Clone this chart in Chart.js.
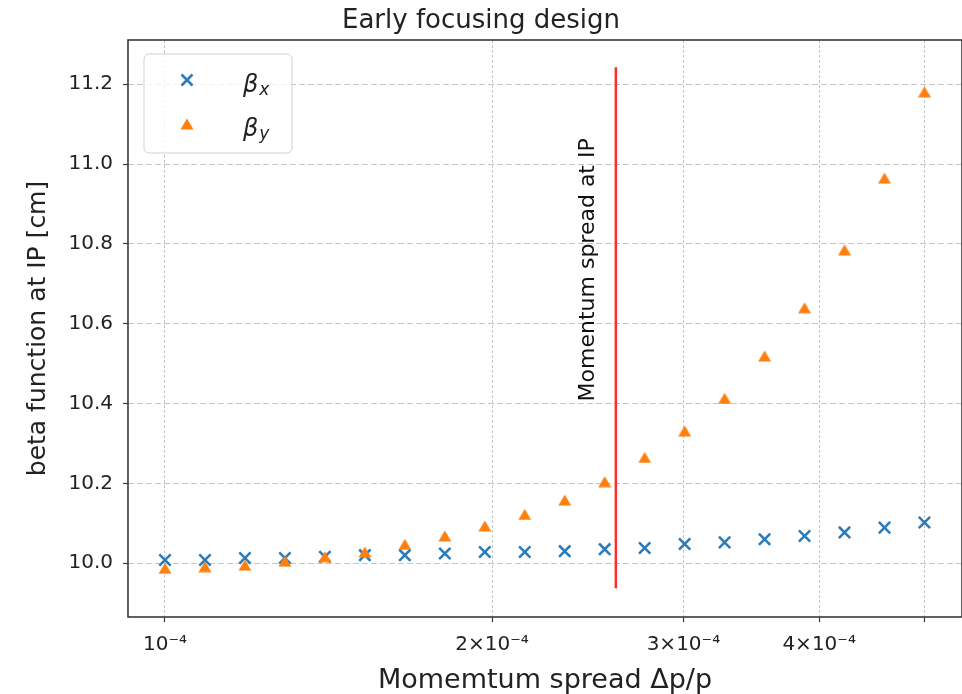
<!DOCTYPE html>
<html>
<head>
<meta charset="utf-8">
<script src="https://cdn.jsdelivr.net/npm/chart.js@4/dist/chart.umd.min.js"></script>
<style>
  html, body { margin: 0; padding: 0; background: #ffffff; }
  #wrap { width: 962px; height: 694px; }
</style>
</head>
<body>
<div id="wrap"><canvas id="c" width="962" height="694"></canvas></div>
<script>
// ---------------- data ----------------
const momentumSpread = [1.0000e-4, 1.0884e-4, 1.1846e-4, 1.2893e-4, 1.4033e-4, 1.5274e-4, 1.6624e-4, 1.8094e-4, 1.9693e-4, 2.1434e-4,
                        2.3329e-4, 2.5391e-4, 2.7636e-4, 3.0079e-4, 3.2737e-4, 3.5631e-4, 3.8781e-4, 4.2210e-4, 4.5941e-4, 5.0000e-4];
const betaX = [10.008, 10.008, 10.013, 10.013, 10.016, 10.020, 10.020, 10.024, 10.028, 10.028,
               10.030, 10.035, 10.038, 10.048, 10.052, 10.060, 10.068, 10.077, 10.089, 10.102];
const betaY = [9.987, 9.991, 9.995, 10.005, 10.016, 10.028, 10.047, 10.068, 10.093, 10.122,
               10.158, 10.204, 10.265, 10.331, 10.413, 10.519, 10.640, 10.785, 10.965, 11.181];
const ipSpreadX = [2.6e-4, 2.6e-4];
const ipSpreadY = [9.937, 11.243];
const xTickValues = [1e-4, 2e-4, 3e-4, 4e-4, 5e-4];
const xTickLabels = ['10\u207B\u2074', '2\u00D710\u207B\u2074', '3\u00D710\u207B\u2074', '4\u00D710\u207B\u2074', ''];
const yTickValues = [10.0, 10.2, 10.4, 10.6, 10.8, 11.0, 11.2];
const yTickLabels = ['10.0', '10.2', '10.4', '10.6', '10.8', '11.0', '11.2'];
const seriesLabels = ['\u03B2_x', '\u03B2_y'];
const annotationText = 'Momentum spread at IP';
const annotationAt = { x: 2.45e-4, y: 10.735 };

// ---------------- styles ----------------
const FONT = "'DejaVu Sans', 'Liberation Sans', sans-serif";
const BLUE = '#2a7bba';
const ORANGE = '#ff7f0e';
const TEXT = '#222222';

// triangle marker (bbox-centred like matplotlib '^')
const tri = document.createElement('canvas');
tri.width = 14; tri.height = 12;
(function () {
  const t = tri.getContext('2d');
  t.fillStyle = ORANGE;
  t.beginPath();
  t.moveTo(7, 0.5); t.lineTo(13.5, 11.5); t.lineTo(0.5, 11.5); t.closePath();
  t.fill();
})();

const toPts = (xs, ys) => xs.map((x, i) => ({ x: x, y: ys[i] }));

const extras = {
  id: 'extras',
  beforeDatasetsDraw(chart) {
    const { ctx, chartArea: a } = chart;
    ctx.save();
    ctx.strokeStyle = '#3a3a3a';
    ctx.lineWidth = 1.6;
    ctx.strokeRect(a.left, a.top, a.right - a.left, a.bottom - a.top);
    ctx.restore();
  },
  afterDatasetsDraw(chart) {
    const { ctx, chartArea: a, scales } = chart;
    // annotation text (rotated)
    ctx.save();
    ctx.translate(scales.x.getPixelForValue(annotationAt.x), scales.y.getPixelForValue(annotationAt.y));
    ctx.rotate(-Math.PI / 2);
    ctx.font = '22px ' + FONT;
    ctx.fillStyle = '#111111';
    ctx.textAlign = 'center';
    ctx.textBaseline = 'middle';
    ctx.fillText(annotationText, 0, 0);
    ctx.restore();

    // legend
    const bx = a.left + 16, by = a.top + 14, bw = 148, bh = 99, r = 5;
    ctx.save();
    ctx.beginPath();
    ctx.moveTo(bx + r, by);
    ctx.lineTo(bx + bw - r, by);
    ctx.arcTo(bx + bw, by, bx + bw, by + r, r);
    ctx.lineTo(bx + bw, by + bh - r);
    ctx.arcTo(bx + bw, by + bh, bx + bw - r, by + bh, r);
    ctx.lineTo(bx + r, by + bh);
    ctx.arcTo(bx, by + bh, bx, by + bh - r, r);
    ctx.lineTo(bx, by + r);
    ctx.arcTo(bx, by, bx + r, by, r);
    ctx.closePath();
    ctx.fillStyle = 'rgba(255,255,255,0.8)';
    ctx.fill();
    ctx.strokeStyle = '#d0d0d0';
    ctx.lineWidth = 1;
    ctx.stroke();

    const mx = bx + 43;
    const rows = [by + 26, by + 70];
    ctx.strokeStyle = BLUE;
    ctx.lineWidth = 2.5;
    const h = 5.5;
    ctx.beginPath();
    ctx.moveTo(mx - h, rows[0] - h); ctx.lineTo(mx + h, rows[0] + h);
    ctx.moveTo(mx - h, rows[0] + h); ctx.lineTo(mx + h, rows[0] - h);
    ctx.stroke();
    ctx.drawImage(tri, mx - tri.width / 2, rows[1] - tri.height / 2);

    ctx.fillStyle = TEXT;
    ctx.textAlign = 'left';
    ctx.textBaseline = 'alphabetic';
    chart.data.datasets.slice(0, 2).forEach((ds, i) => {
      const parts = ds.label.split('_');
      const tx = bx + 99;
      const base = rows[i] + 12;
      ctx.font = 'italic 24px ' + FONT;
      ctx.fillText(parts[0], tx, base);
      const w = ctx.measureText(parts[0]).width;
      ctx.font = 'italic 17px ' + FONT;
      ctx.fillText(parts[1] || '', tx + w + 1, base + 3);
    });
    ctx.restore();
  }
};

new Chart(document.getElementById('c'), {
  data: {
    datasets: [
      {
        type: 'scatter',
        label: seriesLabels[0],
        data: toPts(momentumSpread, betaX),
        pointStyle: 'crossRot',
        pointRadius: 8,
        pointBorderWidth: 2.5,
        borderColor: BLUE,
        backgroundColor: BLUE,
        order: 2
      },
      {
        type: 'scatter',
        label: seriesLabels[1],
        data: toPts(momentumSpread, betaY),
        pointStyle: tri,
        pointRadius: 7,
        borderColor: ORANGE,
        backgroundColor: ORANGE,
        order: 1
      },
      {
        type: 'line',
        label: 'ip',
        data: toPts(ipSpreadX, ipSpreadY),
        borderColor: '#ff2a2a',
        borderWidth: 2.5,
        pointRadius: 0,
        fill: false,
        order: 3
      }
    ]
  },
  options: {
    responsive: false,
    animation: false,
    devicePixelRatio: 1,
    layout: { autoPadding: false, padding: { left: 0, right: 0, top: 0, bottom: 0 } },
    plugins: {
      legend: { display: false },
      tooltip: { enabled: false },
      title: {
        display: true,
        text: 'Early focusing design',
        color: TEXT,
        font: { family: FONT, size: 26, weight: 'normal', lineHeight: 1.2 },
        padding: { top: 6, bottom: 2.8 }
      }
    },
    scales: {
      x: {
        type: 'logarithmic',
        position: 'bottom',
        min: 0.9246e-4,
        max: 5.4142e-4,
        afterBuildTicks(s) { s.ticks = xTickValues.map(v => ({ value: v })); },
        afterFit(s) { s.height = 77; s.paddingLeft = 0; s.paddingRight = 0; },
        ticks: {
          autoSkip: false,
          maxRotation: 0,
          padding: 11,
          color: TEXT,
          font: { family: FONT, size: 20 },
          callback(v) { const i = xTickValues.findIndex(t => Math.abs(t - v) < 1e-9); return i >= 0 ? xTickLabels[i] : ''; }
        },
        grid: {
          color: '#c4c4c4',
          lineWidth: 1,
          drawTicks: true,
          tickLength: 5,
          tickColor: '#3a3a3a',
          tickWidth: 1.2,
          tickBorderDash: []
        },
        border: { display: false, dash: [3, 2] },
        title: {
          display: true,
          text: 'Momemtum spread \u0394p/p',
          color: TEXT,
          font: { family: FONT, size: 27, lineHeight: 1 },
          padding: { top: 0, bottom: 0 }
        }
      },
      y: {
        type: 'linear',
        position: 'left',
        min: 9.865,
        max: 11.311,
        afterBuildTicks(s) { s.ticks = yTickValues.map(v => ({ value: v })); },
        afterFit(s) { s.width = 128; s.paddingTop = 0; s.paddingBottom = 0; },
        ticks: {
          autoSkip: false,
          padding: 10,
          color: TEXT,
          font: { family: FONT, size: 20 },
          callback(v) { const i = yTickValues.findIndex(t => Math.abs(t - v) < 1e-9); return i >= 0 ? yTickLabels[i] : ''; }
        },
        grid: {
          color: '#c4c4c4',
          lineWidth: 1,
          drawTicks: true,
          tickLength: 5,
          tickColor: '#3a3a3a',
          tickWidth: 1.2,
          tickBorderDash: []
        },
        border: { display: false, dash: [6, 3] },
        title: {
          display: true,
          text: 'beta function at IP [cm]',
          color: TEXT,
          font: { family: FONT, size: 25, lineHeight: 1 },
          padding: { top: 25.5, bottom: 0 }
        }
      }
    }
  },
  plugins: [extras]
});
</script>
</body>
</html>
